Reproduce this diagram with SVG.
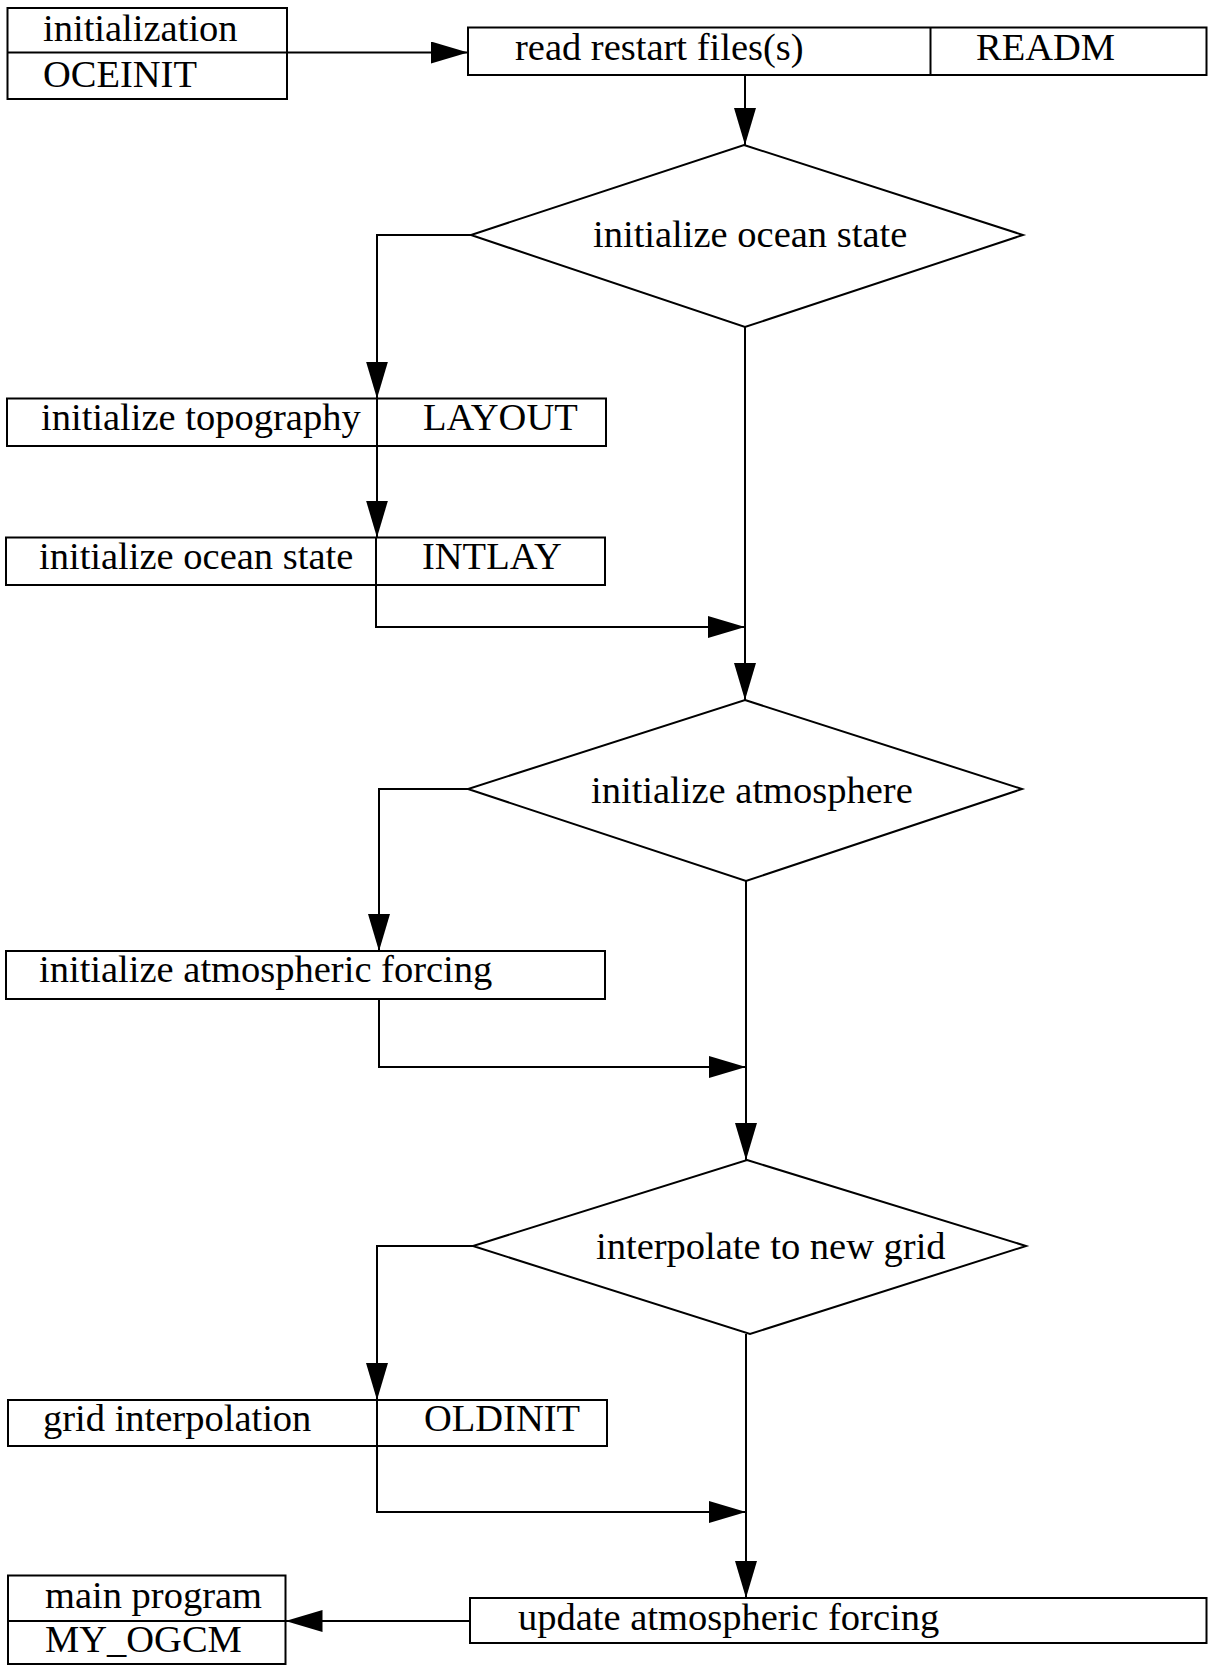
<svg xmlns="http://www.w3.org/2000/svg" width="1209" height="1666" viewBox="0 0 1209 1666">
  <style>
    .box { fill: #fff; stroke: #000; stroke-width: 2; }
    .div { stroke: #000; stroke-width: 2; fill: none; }
    .lbl { font-family: "Liberation Serif", "Times New Roman", serif; font-size: 38.5px; fill: #000; }
    .edge { fill: none; stroke: #000; stroke-width: 2; }
  </style>
  <defs>
    <marker id="arrow" markerUnits="userSpaceOnUse" markerWidth="38" markerHeight="22" refX="37" refY="11" orient="auto">
      <path d="M0,0 L37,11 L0,22 z" fill="#000"/>
    </marker>
  </defs>
  <rect width="1209" height="1666" fill="#fff"/>

  <!-- nodes -->
  <g id="n-init">
    <rect class="box" x="7.5" y="8" width="279.5" height="91"/>
    <line class="div" x1="7.5" y1="52.5" x2="287" y2="52.5"/>
    <text class="lbl" x="43" y="41">initialization</text>
    <text class="lbl" x="43" y="87">OCEINIT</text>
  </g>

  <g id="n-readm">
    <rect class="box" x="468" y="27.5" width="738.5" height="47.5"/>
    <line class="div" x1="930.5" y1="27.5" x2="930.5" y2="75"/>
    <text class="lbl" x="515" y="60">read restart files(s)</text>
    <text class="lbl" x="976" y="60">READM</text>
  </g>

  <g id="n-ocean-decision">
    <polygon class="box" points="744,145 1023,235 745,327 471,235"/>
    <text class="lbl" x="593" y="246.5">initialize ocean state</text>
  </g>

  <g id="n-layout">
    <rect class="box" x="7" y="398.5" width="599" height="47.5"/>
    <line class="div" x1="377" y1="398.5" x2="377" y2="446"/>
    <text class="lbl" x="41" y="430">initialize topography</text>
    <text class="lbl" x="423" y="430">LAYOUT</text>
  </g>

  <g id="n-intlay">
    <rect class="box" x="6" y="537.5" width="599" height="47.5"/>
    <line class="div" x1="376" y1="537.5" x2="376" y2="585"/>
    <text class="lbl" x="39" y="569">initialize ocean state</text>
    <text class="lbl" x="422" y="569">INTLAY</text>
  </g>

  <g id="n-atmos-decision">
    <polygon class="box" points="745,700 1022,789 746,881 468,789"/>
    <text class="lbl" x="591" y="803">initialize atmosphere</text>
  </g>

  <g id="n-atmos-forcing">
    <rect class="box" x="6" y="951" width="599" height="48"/>
    <text class="lbl" x="39" y="982">initialize atmospheric forcing</text>
  </g>

  <g id="n-grid-decision">
    <polygon class="box" points="747,1160 1026,1246 750,1334 473,1246"/>
    <text class="lbl" x="596" y="1259">interpolate to new grid</text>
  </g>

  <g id="n-oldinit">
    <rect class="box" x="8" y="1400" width="599" height="46"/>
    <line class="div" x1="377" y1="1400" x2="377" y2="1446"/>
    <text class="lbl" x="43" y="1431">grid interpolation</text>
    <text class="lbl" x="424" y="1431">OLDINIT</text>
  </g>

  <g id="n-update">
    <rect class="box" x="470" y="1598" width="736.5" height="45"/>
    <text class="lbl" x="518" y="1630">update atmospheric forcing</text>
  </g>

  <g id="n-main">
    <rect class="box" x="8" y="1575.5" width="277.5" height="88.5"/>
    <line class="div" x1="8" y1="1621" x2="285.5" y2="1621"/>
    <text class="lbl" x="45" y="1608">main program</text>
    <text class="lbl" x="45" y="1652">MY_OGCM</text>
  </g>

  <!-- connectors -->
  <g id="connectors">
    <path class="edge" d="M287,52.5 H468" marker-end="url(#arrow)"/>
    <path class="edge" d="M745,75 V145" marker-end="url(#arrow)"/>
    <path class="edge" d="M471,235 H377 V398.5" marker-end="url(#arrow)"/>
    <path class="edge" d="M377,446 V537.5" marker-end="url(#arrow)"/>
    <path class="edge" d="M376,585 V627 H745" marker-end="url(#arrow)"/>
    <path class="edge" d="M745,327 V700" marker-end="url(#arrow)"/>
    <path class="edge" d="M468,789 H379 V951" marker-end="url(#arrow)"/>
    <path class="edge" d="M379,999 V1067 H746" marker-end="url(#arrow)"/>
    <path class="edge" d="M746,881 V1160" marker-end="url(#arrow)"/>
    <path class="edge" d="M473,1246 H377 V1400" marker-end="url(#arrow)"/>
    <path class="edge" d="M377,1446 V1512 H746" marker-end="url(#arrow)"/>
    <path class="edge" d="M746,1334 V1598" marker-end="url(#arrow)"/>
    <path class="edge" d="M470,1621 H285.5" marker-end="url(#arrow)"/>
  </g>
</svg>
